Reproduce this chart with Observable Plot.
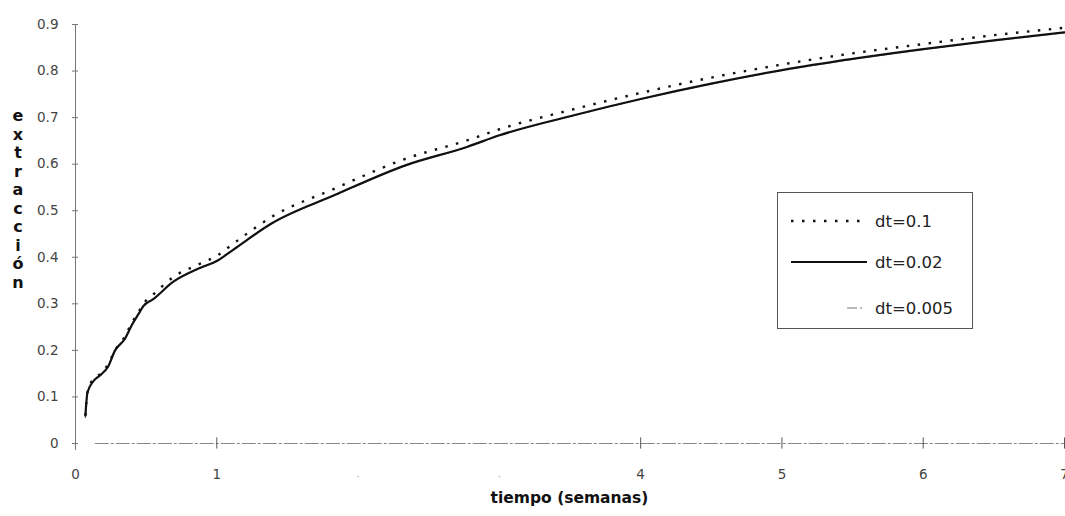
<!DOCTYPE html>
<html>
<head>
<meta charset="utf-8">
<script src="https://cdn.jsdelivr.net/npm/d3@7"></script>
<script src="https://cdn.jsdelivr.net/npm/@observablehq/plot@0.6"></script>
<style>
  html, body { margin: 0; padding: 0; background: #fff; }
  #wrap { position: relative; width: 1065px; height: 516px; overflow: hidden; font-family: "DejaVu Sans", sans-serif; }
  #chart { position: absolute; left: 0; top: 0; }
  #ylab { position: absolute; left: 9px; top: 107px; width: 18px; text-align: center; font-weight: bold; font-size: 16px; line-height: 18.5px; color: #111; }
  #xlab { position: absolute; left: 75px; width: 989px; top: 489px; text-align: center; font-weight: bold; font-size: 15.5px; color: #111; }
  #legend { position: absolute; left: 777px; top: 192px; width: 194px; height: 135px; border: 1px solid #555; background: #fff; }
</style>
</head>
<body>
<div id="wrap">
  <div id="chart"></div>
  <div id="ylab"></div>
  <div id="xlab"></div>
  <div id="legend"></div>
</div>
<script>
// Data
const weeks  = [0.07, 0.085, 0.13, 0.18, 0.23, 0.28, 0.35, 0.40, 0.45, 0.48, 0.55, 0.69, 0.88, 1.0, 1.12, 1.39, 1.83, 2.34, 2.77, 3.0, 3.5, 4.0, 4.5, 5.0, 5.5, 6.0, 6.5, 7.0];
const dt01   = [0.06, 0.11, 0.14, 0.15, 0.17, 0.20, 0.23, 0.26, 0.285, 0.30, 0.32, 0.357, 0.386, 0.403, 0.43, 0.487, 0.547, 0.612, 0.651, 0.675, 0.716, 0.753, 0.786, 0.814, 0.838, 0.858, 0.877, 0.893];
const dt002  = [0.06, 0.11, 0.135, 0.148, 0.165, 0.20, 0.225, 0.255, 0.28, 0.295, 0.31, 0.347, 0.377, 0.392, 0.417, 0.473, 0.533, 0.598, 0.637, 0.662, 0.703, 0.740, 0.773, 0.802, 0.826, 0.847, 0.866, 0.883];
const dt0005 = [0.055, 0.108, 0.134, 0.147, 0.164, 0.199, 0.224, 0.254, 0.279, 0.294, 0.309, 0.346, 0.376, 0.391, 0.416, 0.472, 0.532, 0.597, 0.636, 0.661, 0.702, 0.739, 0.772, 0.801, 0.825, 0.846, 0.865, 0.882];
const seriesNames = ["dt=0.1", "dt=0.02", "dt=0.005"];
const xTicks = [0, 1, 4, 5, 6, 7];
const xFaint = [2, 3];
const yTicks = [0, 0.1, 0.2, 0.3, 0.4, 0.5, 0.6, 0.7, 0.8, 0.9];
const yTitle = "extracción";
const xTitle = "tiempo (semanas)";

const styles = {
  "dt=0.1":   {stroke: "#111", strokeWidth: 2.4, strokeDasharray: "2.5,8.5", strokeLinecap: "butt"},
  "dt=0.02":  {stroke: "#111", strokeWidth: 2.2},
  "dt=0.005": {stroke: "#666", strokeWidth: 0.9, strokeDasharray: "10,3,2,3"}
};

const rows = (vals) => weeks.map((w, i) => ({w, v: vals[i]}));
const data = {"dt=0.1": rows(dt01), "dt=0.02": rows(dt002), "dt=0.005": rows(dt0005)};

const fmtY = d => d === 0 ? "0" : d.toFixed(1);

const chart = Plot.plot({
  width: 1065,
  height: 516,
  marginLeft: 75,
  marginRight: 1,
  marginTop: 24,
  marginBottom: 73,
  x: {domain: [0, 7]},
  y: {domain: [0, 0.9]},
  style: {fontFamily: "DejaVu Sans, sans-serif", fontSize: "13px", color: "#444", background: "#fff"},
  marks: [
    Plot.ruleX([0], {y1: 0.9, y2: -0.015, stroke: "#777", strokeWidth: 1}),
    Plot.ruleY([0], {x1: 0.14, x2: 7, stroke: "#888", strokeWidth: 1, strokeDasharray: "14,2,3,2"}),
    Plot.axisY({ticks: yTicks, tickSize: 3, tickPadding: 14, tickFormat: fmtY, label: null, stroke: "#777", fill: "#444", fontSize: 13.5}),
    Plot.axisY({ticks: yTicks, tickSize: 3, dx: 3, tickFormat: () => "", label: null, stroke: "#777"}),
    Plot.axisX({ticks: xTicks, anchor: "bottom", tickSize: 0, tickPadding: 26, tickFormat: d => String(d), label: null, fill: "#444", fontSize: 13.5}),
    Plot.ruleX(xTicks.filter(d => d > 0), {x: d => d, y1: -0.012, y2: 0.012, stroke: "#555", strokeWidth: 1}),
    Plot.dot(xFaint, {x: d => d, y: 0, r: 0.6, fill: "#aaa", stroke: null}),
    Plot.text(xFaint, {x: d => d, y: 0, dy: 33, text: () => "·", fill: "#aaa", fontSize: 10}),
    Plot.line(data["dt=0.005"], {x: "w", y: "v", curve: "monotone-x", ...styles["dt=0.005"]}),
    Plot.line(data["dt=0.02"], {x: "w", y: "v", curve: "monotone-x", ...styles["dt=0.02"]}),
    Plot.line(data["dt=0.1"], {x: "w", y: "v", curve: "monotone-x", ...styles["dt=0.1"]})
  ]
});
document.getElementById("chart").appendChild(chart);

// Stacked vertical y-axis title
document.getElementById("ylab").innerHTML = Array.from(yTitle).map(c => `<div>${c}</div>`).join("");
document.getElementById("xlab").textContent = xTitle;

// Legend
const lsvg = d3.create("svg").attr("width", 194).attr("height", 135);
const rowsY = [28, 69, 115];
const lineSpans = [[13, 83], [13, 89], [69, 85]];
seriesNames.forEach((name, i) => {
  const s = styles[name];
  lsvg.append("line")
    .attr("x1", lineSpans[i][0]).attr("x2", lineSpans[i][1])
    .attr("y1", rowsY[i]).attr("y2", rowsY[i])
    .attr("stroke", s.stroke).attr("stroke-width", s.strokeWidth)
    .attr("stroke-dasharray", s.strokeDasharray || null);
  lsvg.append("text")
    .attr("x", 97).attr("y", rowsY[i] + 6)
    .attr("font-family", "DejaVu Sans, sans-serif").attr("font-size", 16.5)
    .attr("fill", "#222")
    .text(name);
});
document.getElementById("legend").appendChild(lsvg.node());
</script>
</body>
</html>
